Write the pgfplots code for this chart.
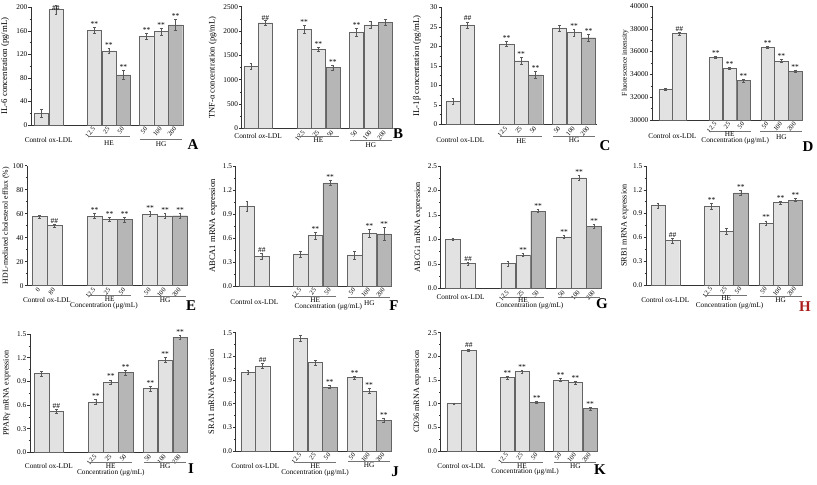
\documentclass[border=0pt]{standalone}
\usepackage{fontspec}
\setmainfont{Liberation Serif}
\usepackage{pgfplots}
\pgfplotsset{compat=1.18}
\definecolor{barL}{RGB}{226,226,226}
\definecolor{barD}{RGB}{182,182,182}
\definecolor{edge}{RGB}{100,100,100}
\definecolor{hred}{RGB}{170,30,30}
\pgfplotsset{
 panel/.style={
  scale only axis, anchor=south west, clip=false,
  bar width=0.98,
  axis x line*=bottom, axis y line*=left,
  axis line style={black!80, line width=0.5pt},
  xtick style={draw=none},
  ytick style={black!80, line width=0.5pt},
  tick align=outside, major tick length=2.5bp, minor tick length=1.3bp,
  minor y tick num=1,
  yticklabel style={font=\fontsize{7.3}{8}\selectfont, inner sep=1pt},
  xticklabel style={font=\fontsize{6.5}{7}\selectfont, rotate=50, anchor=east, inner sep=0.6pt},
  /pgf/number format/assume math mode=true,
  /pgf/number format/1000 sep={},
  scaled y ticks=false,
 },
 dec/.style={yticklabel style={/pgf/number format/.cd, fixed, fixed zerofill, precision=1}},
 errs/.style={error bars/.cd, y dir=both, y explicit, error bar style={line width=0.4pt, black!65}, error mark options={rotate=90, mark size=1.4pt, line width=0.4pt, black!65}},
 lb/.style={ybar, bar shift=0pt, fill=barL, draw=edge, line width=0.4pt, errs},
 db/.style={ybar, bar shift=0pt, fill=barD, draw=edge, line width=0.4pt, errs},
}
\tikzset{
 glst/.style={line width=0.4pt, black!55},
 gtst/.style={font=\fontsize{7.3}{8}\selectfont, inner sep=0pt},
 stst/.style={anchor=south, inner sep=0.6pt, font=\fontsize{7.5}{8}\selectfont},
}
\newcommand{\gl}[2]{\draw[glst] ([xshift=-21bp,yshift=-#2bp]axis cs:#1,\pgfkeysvalueof{/pgfplots/ymin}) -- ([xshift=21bp,yshift=-#2bp]axis cs:#1,\pgfkeysvalueof{/pgfplots/ymin});}
\newcommand{\gt}[3]{\node[gtst] at ([yshift=-#2bp]axis cs:#1,\pgfkeysvalueof{/pgfplots/ymin}) {#3};}
\newcommand{\st}[3]{\node[stst] at (axis cs:#1,#2) {#3};}
\newcommand{\ylab}[3]{\node[rotate=90, font=\fontsize{#2}{#2}\selectfont] at ([xshift=-#1bp]rel axis cs:0,0.5) {#3};}
\begin{document}
\begin{tikzpicture}
\useasboundingbox (0,0) rectangle (817bp,485bp);
% ---------------- A
\begin{axis}[panel, at={(31bp,360bp)}, width=152.6bp, height=117.7bp,
 xmin=-0.72, xmax=9.8, ymin=0, ymax=200, ytick={0,40,...,200},
 xtick={3.65,4.65,5.65,7.25,8.25,9.25}, xticklabels={12.5,25,50,50,100,200}]
\addplot[lb] coordinates {(0,20) +- (0,6) (1,196) +- (0,8) (3.65,161) +- (0,5) (4.65,126) +- (0,4) (7.25,151) +- (0,5) (8.25,159) +- (0,6)};
\addplot[db] coordinates {(5.65,85) +- (0,8) (9.25,170) +- (0,9)};
\st{1}{193}{\#\#}\st{3.65}{166}{**}\st{4.65}{130}{**}\st{5.65}{93}{**}\st{7.25}{156}{**}\st{8.25}{165}{**}\st{9.25}{179}{**}
\gl{4.65}{11.7}\gt{4.65}{17.7}{HE}\gl{8.25}{14.3}\gt{8.25}{19}{HG}\gt{0.5}{15}{Control ox-LDL}
\ylab{26}{8.8}{IL-6 concentration (pg/mL)}
\end{axis}
% ---------------- B
\begin{axis}[panel, at={(241.7bp,356.7bp)}, width=151.4bp, height=121.6bp,
 xmin=-0.65, xmax=9.9, ymin=0, ymax=2500, ytick={0,500,...,2500},
 xtick={3.7,4.7,5.7,7.35,8.35,9.35}, xticklabels={12.5,25,50,50,100,200}]
\addplot[lb] coordinates {(0,1270) +- (0,60) (1,2170) +- (0,50) (3.7,2035) +- (0,80) (4.7,1624) +- (0,40) (7.35,1974) +- (0,90) (8.35,2124) +- (0,70)};
\addplot[db] coordinates {(5.7,1246) +- (0,50) (9.35,2179) +- (0,60)};
\st{1}{2200}{\#\#}\st{3.7}{2115}{**}\st{4.7}{1664}{**}\st{5.7}{1296}{**}\st{7.35}{2064}{**}
\gl{4.7}{8}\gt{4.7}{11.5}{HE}\gl{8.35}{12}\gt{8.35}{16.5}{HG}\gt{0.5}{8}{Control \textit{ox}-LDL}
\ylab{29}{8.5}{TNF-α concentration (pg/mL)}
\end{axis}
% ---------------- C
\begin{axis}[panel, at={(441bp,360.7bp)}, width=155.5bp, height=117bp,
 xmin=-0.83, xmax=9.9, ymin=0, ymax=30, ytick={0,5,...,30},
 xtick={3.7,4.7,5.7,7.35,8.35,9.35}, xticklabels={12.5,25,50,50,100,200}]
\addplot[lb] coordinates {(0,5.9) +- (0,0.7) (1,25.5) +- (0,0.8) (3.7,20.6) +- (0,0.6) (4.7,16.3) +- (0,1.0) (7.35,24.7) +- (0,0.8) (8.35,23.5) +- (0,0.9)};
\addplot[db] coordinates {(5.7,12.7) +- (0,0.8) (9.35,22.2) +- (0,1.0)};
\st{1}{26.3}{\#\#}\st{3.7}{21.2}{**}\st{4.7}{17.3}{**}\st{5.7}{13.5}{**}\st{8.35}{24.4}{**}\st{9.35}{23.2}{**}
\gl{4.7}{12.4}\gt{4.7}{16.7}{HE}\gl{8.35}{11.5}\gt{8.35}{15.7}{HG}\gt{0.5}{15.7}{Control ox-LDL}
\ylab{24}{8.8}{IL-1β concentration (pg/mL)}
\end{axis}
% ---------------- D
\begin{axis}[panel, at={(652bp,365bp)}, width=150.8bp, height=114bp,
 xmin=-0.98, xmax=9.95, ymin=30000, ymax=40000, ytick={30000,32000,...,40000},
 xtick={3.65,4.65,5.65,7.4,8.4,9.4}, xticklabels={12.5,25,50,50,100,200}]
\addplot[lb] coordinates {(0,32720) +- (0,80) (1,37570) +- (0,100) (3.65,35500) +- (0,80) (4.65,34530) +- (0,100) (7.4,36370) +- (0,80) (8.4,35170) +- (0,120)};
\addplot[db] coordinates {(5.65,33450) +- (0,120) (9.4,34270) +- (0,100)};
\st{1}{37670}{\#\#}\st{3.65}{35580}{**}\st{4.65}{34630}{**}\st{5.65}{33570}{**}\st{7.4}{36450}{**}\st{8.4}{35290}{**}\st{9.4}{34370}{**}
\gl{4.65}{11.7}\gt{4.65}{14.6}{HE}\gt{5.05}{20.5}{Concentration (μg/mL)}\gl{8.4}{11.7}\gt{8.4}{16.7}{HG}\gt{0.5}{16}{Control ox-LDL}
\ylab{27}{7.4}{Fluorescence intensity}
\end{axis}
% ---------------- E
\begin{axis}[panel, at={(27.3bp,199.3bp)}, width=161bp, height=120bp,
 xmin=-0.81, xmax=9.92, ymin=0, ymax=100, ytick={0,20,...,100},
 xtick={0,1,3.68,4.68,5.68,7.37,8.37,9.37}, xticklabels={0,80,12.5,25,50,50,100,200}]
\addplot[lb] coordinates {(0,57.5) +- (0,1) (1,50.3) +- (0,1.2) (3.68,58) +- (0,2) (4.68,55.3) +- (0,1.5) (7.37,59.7) +- (0,2) (8.37,58.3) +- (0,2)};
\addplot[db] coordinates {(5.68,55.3) +- (0,2) (9.37,58.3) +- (0,2)};
\st{1}{51.5}{\#\#}\st{3.68}{60}{**}\st{4.68}{56.8}{**}\st{5.68}{57.3}{**}\st{7.37}{61.7}{**}\st{8.37}{60.3}{**}\st{9.37}{60.3}{**}
\gl{4.68}{9.8}\gt{4.68}{13.9}{HE}\gt{4.3}{20.5}{Concentration (μg/mL)}\gl{8.37}{11}\gt{8.37}{14.5}{HG}\gt{0.5}{14.5}{Control ox-LDL}
\ylab{21.3}{7.8}{HDL-mediated cholesterol efflux (\%)}
\end{axis}
% ---------------- F
\begin{axis}[panel, dec, at={(235.7bp,199bp)}, width=156.3bp, height=120bp,
 xmin=-0.76, xmax=9.8, ymin=0, ymax=1.5, ytick={0,0.3,...,1.5},
 xtick={3.62,4.62,5.62,7.27,8.27,9.27}, xticklabels={12.5,25,50,50,100,200}]
\addplot[lb] coordinates {(0,1.0) +- (0,0.06) (1,0.37) +- (0,0.04) (3.62,0.40) +- (0,0.04) (4.62,0.63) +- (0,0.04) (7.27,0.39) +- (0,0.05) (8.27,0.66) +- (0,0.05)};
\addplot[db] coordinates {(5.62,1.29) +- (0,0.03) (9.27,0.65) +- (0,0.08)};
\st{1}{0.41}{\#\#}\st{4.62}{0.67}{**}\st{5.62}{1.32}{**}\st{8.27}{0.71}{**}\st{9.27}{0.73}{**}
\gl{4.62}{10}\gt{4.62}{14.3}{HE}\gt{5.5}{20.3}{Concentration (μg/mL)}\gl{8.27}{11.3}\gt{8.27}{16.7}{HG}\gt{0.5}{15.7}{Control ox-LDL}
\ylab{22.4}{8.6}{ABCA1 mRNA expression}
\end{axis}
% ---------------- G
\begin{axis}[panel, dec, at={(440.7bp,196.7bp)}, width=161.3bp, height=122.3bp,
 xmin=-0.82, xmax=9.93, ymin=0, ymax=2.5, ytick={0,0.5,...,2.5},
 xtick={3.67,4.67,5.67,7.4,8.4,9.4}, xticklabels={12.5,25,50,50,100,200}]
\addplot[lb] coordinates {(0,1.0) +- (0,0.02) (1,0.51) +- (0,0.03) (3.67,0.51) +- (0,0.05) (4.67,0.68) +- (0,0.03) (7.4,1.05) +- (0,0.03) (8.4,2.26) +- (0,0.05)};
\addplot[db] coordinates {(5.67,1.58) +- (0,0.03) (9.4,1.27) +- (0,0.04)};
\st{1}{0.54}{\#\#}\st{4.67}{0.71}{**}\st{5.67}{1.61}{**}\st{7.4}{1.08}{**}\st{8.4}{2.31}{**}\st{9.4}{1.31}{**}
\gl{4.67}{8.5}\gt{4.67}{11.5}{HE}\gt{5.1}{17.5}{Concentration (μg/mL)}\gl{8.4}{8.5}\gt{0.5}{8.5}{Control ox-LDL}
\ylab{22.4}{8.3}{ABCG1 mRNA expression}
\end{axis}
% ---------------- H
\begin{axis}[panel, dec, at={(646bp,200bp)}, width=157bp, height=119bp,
 xmin=-0.82, xmax=9.93, ymin=0, ymax=1.5, ytick={0,0.3,...,1.5},
 xtick={3.67,4.67,5.67,7.4,8.4,9.4}, xticklabels={12.5,25,50,50,100,200}]
\addplot[lb] coordinates {(0,1.0) +- (0,0.03) (1,0.56) +- (0,0.03) (3.67,0.99) +- (0,0.04) (4.67,0.68) +- (0,0.04) (7.4,0.78) +- (0,0.03) (8.4,1.04) +- (0,0.02)};
\addplot[db] coordinates {(5.67,1.16) +- (0,0.03) (9.4,1.07) +- (0,0.02)};
\st{1}{0.59}{\#\#}\st{3.67}{1.03}{**}\st{5.67}{1.19}{**}\st{7.4}{0.81}{**}\st{8.4}{1.06}{**}\st{9.4}{1.09}{**}
\gl{4.67}{10}\gt{4.67}{13.3}{HE}\gt{4.9}{21}{Concentration (μg/mL)}\gl{8.4}{11.7}\gt{8.4}{15}{HG}\gt{0.5}{15}{Control ox-LDL}
\ylab{21.3}{8.2}{SRB1 mRNA expression}
\end{axis}
% ---------------- I
\begin{axis}[panel, dec, at={(30bp,32.7bp)}, width=158.3bp, height=118.3bp,
 xmin=-0.77, xmax=9.85, ymin=0, ymax=1.5, ytick={0,0.3,...,1.5},
 xtick={3.65,4.65,5.65,7.3,8.3,9.3}, xticklabels={12.5,25,50,50,100,200}]
\addplot[lb] coordinates {(0,1.0) +- (0,0.03) (1,0.52) +- (0,0.03) (3.65,0.64) +- (0,0.03) (4.65,0.89) +- (0,0.03) (7.3,0.81) +- (0,0.03) (8.3,1.17) +- (0,0.03)};
\addplot[db] coordinates {(5.65,1.01) +- (0,0.03) (9.3,1.46) +- (0,0.02)};
\st{1}{0.55}{\#\#}\st{3.65}{0.67}{**}\st{4.65}{0.92}{**}\st{5.65}{1.04}{**}\st{7.3}{0.84}{**}\st{8.3}{1.2}{**}\st{9.3}{1.48}{**}
\gl{4.65}{10}\gt{4.65}{14.3}{HE}\gt{4.65}{20.5}{Concentration (μg/mL)}\gl{8.3}{10}\gt{8.3}{13.7}{HG}\gt{0.5}{13.7}{Control ox-LDL}
\ylab{23.3}{8.1}{PPARγ mRNA expression}
\end{axis}
% ---------------- J
\begin{axis}[panel, dec, at={(235.7bp,34bp)}, width=155.8bp, height=118.3bp,
 xmin=-0.84, xmax=9.83, ymin=0, ymax=1.5, ytick={0,0.3,...,1.5},
 xtick={3.6,4.6,5.6,7.3,8.3,9.3}, xticklabels={12.5,25,50,50,100,200}]
\addplot[lb] coordinates {(0,1.0) +- (0,0.02) (1,1.08) +- (0,0.03) (3.6,1.43) +- (0,0.04) (4.6,1.12) +- (0,0.03) (7.3,0.93) +- (0,0.02) (8.3,0.76) +- (0,0.03)};
\addplot[db] coordinates {(5.6,0.81) +- (0,0.02) (9.3,0.39) +- (0,0.03)};
\st{1}{1.11}{\#\#}\st{5.6}{0.83}{**}\st{7.3}{0.95}{**}\st{8.3}{0.79}{**}\st{9.3}{0.42}{**}
\gl{4.6}{10.7}\gt{4.6}{15}{HE}\gt{4.6}{21.7}{Concentration (μg/mL)}\gl{8.3}{10}\gt{8.3}{14.3}{HG}\gt{0.5}{15}{Control ox-LDL}
\ylab{23.4}{8.4}{SRA1 mRNA expression}
\end{axis}
% ---------------- K
\begin{axis}[panel, dec, at={(440.7bp,34bp)}, width=157.3bp, height=118.3bp,
 xmin=-0.9, xmax=9.73, ymin=0, ymax=2.5, ytick={0,0.5,...,2.5},
 xtick={3.6,4.6,5.6,7.2,8.2,9.2}, xticklabels={12.5,25,50,50,100,200}]
\addplot[lb] coordinates {(0,1.0) +- (0,0.02) (1,2.13) +- (0,0.03) (3.6,1.55) +- (0,0.03) (4.6,1.68) +- (0,0.03) (7.2,1.50) +- (0,0.03) (8.2,1.45) +- (0,0.03)};
\addplot[db] coordinates {(5.6,1.03) +- (0,0.03) (9.2,0.90) +- (0,0.03)};
\st{1}{2.16}{\#\#}\st{3.6}{1.58}{**}\st{4.6}{1.71}{**}\st{5.6}{1.06}{**}\st{7.2}{1.53}{**}\st{8.2}{1.48}{**}\st{9.2}{0.93}{**}
\gl{4.6}{10.7}\gt{4.6}{15.3}{HE}\gt{4.8}{21}{Concentration (μg/mL)}\gl{8.2}{10.7}\gt{8.2}{15.3}{HG}\gt{0.5}{14.7}{Control ox-LDL}
\ylab{23.4}{8.2}{CD36 mRNA expression}
\end{axis}
% ---------------- panel letters
\begin{scope}[every node/.style={font=\fontsize{15}{15}\selectfont\bfseries}]
\node at (193bp,340bp) {A};
\node at (398bp,351bp) {B};
\node at (605bp,339bp) {C};
\node at (808bp,338bp) {D};
\node at (191bp,179bp) {E};
\node at (394bp,179bp) {F};
\node at (602bp,181bp) {G};
\node[text=hred] at (805bp,178bp) {H};
\node at (191bp,16bp) {I};
\node at (395bp,13bp) {J};
\node at (600bp,15bp) {K};
\end{scope}
\end{tikzpicture}
\end{document}
